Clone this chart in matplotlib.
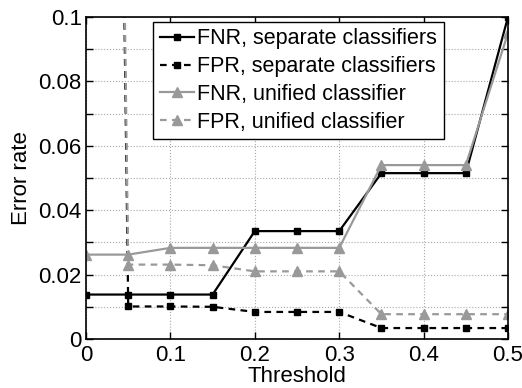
import numpy as np
import matplotlib
matplotlib.use("Agg")
from matplotlib import pyplot as plt

# threshold sweep and error rates for each classifier setup
thresholds = [0.0, 0.05, 0.1, 0.15, 0.2, 0.25, 0.3, 0.35, 0.4, 0.45, 0.5]
fnr_separate = [0.0138, 0.0138, 0.0138, 0.0138, 0.0335, 0.0335, 0.0335, 0.0515, 0.0515, 0.0515, 0.1]
fpr_separate = [1.0, 0.0101, 0.0101, 0.0100, 0.0084, 0.0084, 0.0084, 0.0034, 0.0034, 0.0034, 0.0034]
fnr_unified = [0.0262, 0.0262, 0.0283, 0.0283, 0.0283, 0.0283, 0.0283, 0.054, 0.054, 0.054, 0.095]
fpr_unified = [1.0, 0.0231, 0.0231, 0.0229, 0.021, 0.021, 0.021, 0.0077, 0.0077, 0.0077, 0.0077]

x_ticks = [0, 0.1, 0.2, 0.3, 0.4, 0.5]
x_labels = ["0", "0.1", "0.2", "0.3", "0.4", "0.5"]
y_ticks = [0, 0.02, 0.04, 0.06, 0.08, 0.1]
y_labels = ["0", "0.02", "0.04", "0.06", "0.08", "0.1"]

plt.rcParams['font.family'] = ['Liberation Sans', 'DejaVu Sans']
plt.rcParams['font.size'] = 16

GREY = '#999999'
DASH = (3.0, 2.4)


def main():
    fig = plt.figure(figsize=(5.22, 3.88), dpi=100)
    ax = fig.add_axes([0.1648, 0.1263, 0.8084, 0.83])

    ax.plot(thresholds, fnr_separate, '-', color='black', lw=1.6,
            marker='s', ms=5, label='FNR, separate classifiers')
    ax.plot(thresholds, fpr_separate, '--', color='black', lw=1.6,
            dashes=DASH, marker='s', ms=5, label='FPR, separate classifiers')
    ax.plot(thresholds, fnr_unified, '-', color=GREY, lw=1.6,
            marker='^', ms=7, label='FNR, unified classifier')
    ax.plot(thresholds, fpr_unified, '--', color=GREY, lw=1.6,
            dashes=DASH, marker='^', ms=7, label='FPR, unified classifier')

    ax.set_xlim(0, 0.5)
    ax.set_ylim(0, 0.1)
    ax.set_xticks(x_ticks)
    ax.set_xticklabels(x_labels)
    ax.set_yticks(y_ticks)
    ax.set_yticklabels(y_labels)
    ax.set_yticks(np.arange(0.01, 0.1, 0.02), minor=True)

    ax.grid(True, which='both', linestyle=':', color='#a8a8a8', lw=0.8)
    ax.tick_params(which='both', direction='in', top=True, right=True,
                   length=5, width=1)
    ax.tick_params(axis='x', pad=4)
    ax.tick_params(axis='y', pad=3)
    for s in ax.spines.values():
        s.set_linewidth(1.2)

    ax.set_xlabel('Threshold', labelpad=0)
    ax.set_ylabel('Error rate', labelpad=5)

    leg = ax.legend(loc='upper left', bbox_to_anchor=(0.159, 0.985),
                    numpoints=1, fontsize=15.5,
                    handlelength=1.6, handletextpad=0.15, labelspacing=0.32,
                    borderpad=0.3, borderaxespad=0.0, fancybox=False,
                    framealpha=1, edgecolor='black')
    leg.get_frame().set_linewidth(1.0)

    fig.savefig('out.png', dpi=100)


if __name__ == '__main__':
    main()
